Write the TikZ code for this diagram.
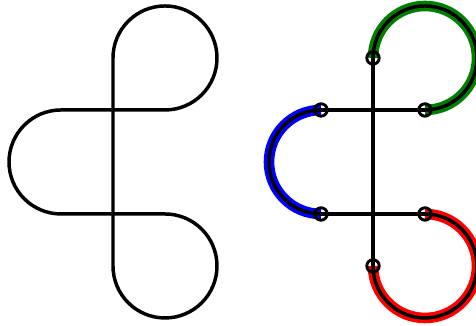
\documentclass[tikz,border=0pt]{standalone}
\usepackage{tikz}
\usetikzlibrary{calc}

\begin{document}
\begin{tikzpicture}[x=1cm,y=1cm,line width=1.9pt,
  band/.style={line width=5.8pt},
  knot/.style={line width=1.6pt}]
\useasboundingbox (-2.173,-4.154) rectangle (6.981,2.115);
% closed curve
\draw (0,1) arc[start angle=180,end angle=-90,radius=1] -- (-1,0)
  arc[start angle=90,end angle=270,radius=1] -- (1,-2)
  arc[start angle=90,end angle=-180,radius=1] -- cycle;
% same curve, cut into pieces
\begin{scope}[xshift=5cm]
\coordinate (t) at (0,1); \coordinate (a) at (1,0);
\coordinate (b) at (-1,0); \coordinate (c) at (-1,-2);
\coordinate (d) at (1,-2); \coordinate (e) at (0,-3);
\draw[band,green!50!black] (t) arc[start angle=180,end angle=-90,radius=1];
\draw[band,blue] (b) arc[start angle=90,end angle=270,radius=1];
\draw[band,red] (d) arc[start angle=90,end angle=-180,radius=1];
\draw (t) arc[start angle=180,end angle=-90,radius=1];
\draw (b) arc[start angle=90,end angle=270,radius=1];
\draw (d) arc[start angle=90,end angle=-180,radius=1];
\draw (b) -- (a); \draw (c) -- (d); \draw (e) -- (t);
\foreach \p in {t,a,b,c,d,e} \draw[knot] (\p) circle (3.4pt);
\end{scope}
\end{tikzpicture}
\end{document}
